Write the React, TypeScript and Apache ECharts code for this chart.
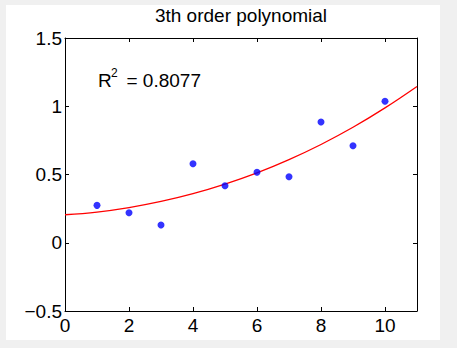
import React, { useEffect, useRef } from "react";
import * as echarts from "echarts";

// Observed data points
const pointX = [1, 2, 3, 4, 5, 6, 7, 8, 9, 10];
const pointY = [0.274, 0.22, 0.13, 0.579, 0.417, 0.517, 0.483, 0.885, 0.711, 1.037];

// Fitted curve
const curveX = [0, 1, 2, 3, 4, 5, 6, 7, 8, 9, 10, 11];
const curveY = [0.205, 0.225, 0.258, 0.303, 0.36, 0.43, 0.512, 0.609, 0.72, 0.846, 0.988, 1.145];

const titleText = "3th order polynomial";
const r2Label = "0.8077";

const FONT = "'Liberation Sans', Arial, Helvetica, sans-serif";

export default function App() {
  const ref = useRef<HTMLDivElement>(null);

  useEffect(() => {
    if (!ref.current) return;
    const chart = echarts.init(ref.current, undefined, { renderer: "svg" });

    const axisLine = { show: true, onZero: false, lineStyle: { color: "#000", width: 1 } };
    const axisTick = { show: true, inside: true, length: 4, lineStyle: { color: "#000", width: 1 } };
    const fmtY = (v: number) => (v < 0 ? "\u2212" + String(Math.abs(v)) : String(v));

    chart.setOption({
      animation: false,
      backgroundColor: "#ffffff",
      textStyle: { fontFamily: FONT },
      grid: { left: 59, top: 33, right: 23, bottom: 29, containLabel: false },
      xAxis: [
        {
          type: "value",
          min: 0,
          max: 11,
          interval: 2,
          position: "bottom",
          axisLine,
          axisTick,
          splitLine: { show: false },
          axisLabel: {
            show: true,
            showMaxLabel: false,
            margin: 5,
            fontSize: 19,
            color: "#000",
            fontFamily: FONT,
          },
        },
        {
          type: "value",
          min: 0,
          max: 11,
          interval: 2,
          position: "top",
          axisLine,
          axisTick,
          splitLine: { show: false },
          axisLabel: { show: false },
        },
      ],
      yAxis: [
        {
          type: "value",
          min: -0.5,
          max: 1.5,
          interval: 0.5,
          position: "left",
          axisLine,
          axisTick,
          splitLine: { show: false },
          axisLabel: {
            show: true,
            margin: 3,
            fontSize: 19,
            color: "#000",
            fontFamily: FONT,
            formatter: fmtY,
          },
        },
        {
          type: "value",
          min: -0.5,
          max: 1.5,
          interval: 0.5,
          position: "right",
          axisLine,
          axisTick,
          splitLine: { show: false },
          axisLabel: { show: false },
        },
      ],
      graphic: [
        {
          type: "text",
          x: 235,
          y: 10,
          style: {
            text: titleText,
            fontSize: 19,
            fontFamily: FONT,
            fill: "#000",
            align: "center",
            verticalAlign: "middle",
          },
        },
        {
          type: "text",
          x: 92,
          y: 75.7,
          style: { text: "R", fontSize: 19, fontFamily: FONT, fill: "#000", align: "left", verticalAlign: "middle" },
        },
        {
          type: "text",
          x: 105,
          y: 68.1,
          style: { text: "2", fontSize: 12, fontFamily: FONT, fill: "#000", align: "left", verticalAlign: "middle" },
        },
        {
          type: "text",
          x: 120.5,
          y: 75.7,
          style: {
            text: "= " + r2Label,
            fontSize: 19,
            fontFamily: FONT,
            fill: "#000",
            align: "left",
            verticalAlign: "middle",
          },
        },
      ],
      series: [
        {
          type: "line",
          xAxisIndex: 0,
          yAxisIndex: 0,
          data: curveX.map((x, i) => [x, curveY[i]]),
          smooth: 0.4,
          showSymbol: false,
          symbol: "none",
          lineStyle: { color: "#ff0000", width: 1.3 },
          itemStyle: { color: "#ff0000" },
          z: 2,
        },
        {
          type: "scatter",
          xAxisIndex: 0,
          yAxisIndex: 0,
          data: pointX.map((x, i) => [x, pointY[i]]),
          symbol: "circle",
          symbolSize: 7,
          itemStyle: { color: "#0000ff" },
          z: 3,
        },
      ],
    });

    return () => chart.dispose();
  }, []);

  return (
    <div
      style={{
        position: "fixed",
        left: 0,
        top: 0,
        width: 457,
        height: 348,
        background: "#f0f0f0",
      }}
    >
      <div
        ref={ref}
        style={{ position: "absolute", left: 6, top: 5, width: 434, height: 335 }}
      />
    </div>
  );
}
